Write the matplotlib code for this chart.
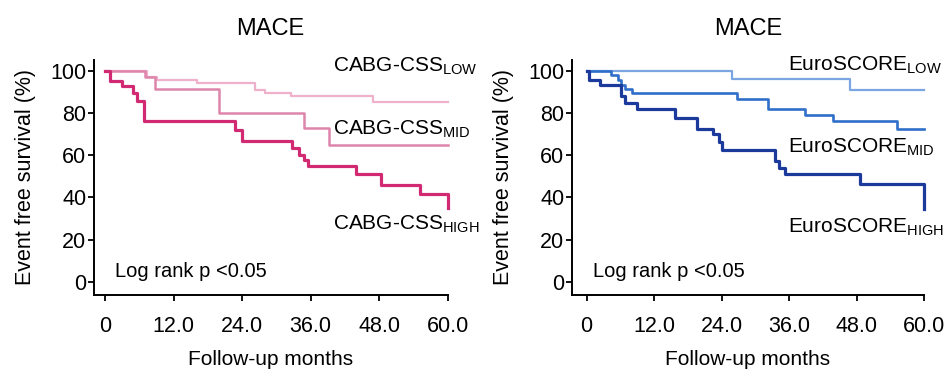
import matplotlib.pyplot as plt

plt.rcParams['font.family'] = ['Liberation Sans', 'DejaVu Sans']
plt.rcParams['mathtext.fontset'] = 'custom'
plt.rcParams['mathtext.rm'] = 'Liberation Sans'

# Courbes de survie (mois, % sans evenement)
months_ticks = [0, 12, 24, 36, 48, 60]
month_labels = ['0', '12.0', '24.0', '36.0', '48.0', '60.0']
surv_ticks = [0, 20, 40, 60, 80, 100]

# CABG-CSS
css_low_t = [0, 7.3, 9, 16, 26.3, 28, 32.5, 46.9, 60]
css_low_s = [100, 97, 95.5, 94, 91, 89.5, 88, 85, 85]
css_mid_t = [0, 7, 8.7, 19.9, 34.9, 39.3, 60]
css_mid_s = [100, 97, 91.5, 80, 73, 64.6, 64.6]
css_high_t = [0, 0.8, 2.9, 4.9, 5.5, 6.7, 22.8, 24, 32.8, 34, 34.8, 35.5, 44, 48.4, 55.1, 60]
css_high_s = [100, 95, 92.5, 89.5, 85.5, 76, 72, 66.5, 63.5, 60, 57.5, 55, 51, 46, 41.5, 35]

# EuroSCORE
euro_low_t = [0, 25.8, 46.8, 60]
euro_low_s = [100, 96, 91, 91]
euro_mid_t = [0, 4.4, 5.6, 6.2, 6.8, 8.0, 26.7, 32.3, 38.9, 43.9, 55.2, 60]
euro_mid_s = [100, 98, 95.5, 93, 91.4, 89.5, 86.5, 81.7, 79, 76, 72.2, 72.2]
euro_high_t = [0, 0.5, 2.4, 6.2, 6.8, 8.9, 15.7, 19.6, 22.5, 23.5, 24, 33.5, 34.3, 35.3, 48.6, 60]
euro_high_s = [100, 95.5, 93, 88, 84.8, 81.7, 77.7, 72.2, 69.8, 66, 62.5, 57, 54, 51, 46.2, 34.5]

fig = plt.figure(figsize=(9.45, 3.7), dpi=100)
ax1 = fig.add_axes([93.9 / 945, 1 - 294.5 / 370, (447.5 - 93.9) / 945, (294.5 - 60) / 370])
ax2 = fig.add_axes([572 / 945, 1 - 294.5 / 370, (924 - 572) / 945, (294.5 - 60) / 370])


def style_axes(ax, xmin, log_x):
    ax.set_xlim(xmin, 60)
    ax.set_ylim(-6, 105)
    ax.spines['top'].set_visible(False)
    ax.spines['right'].set_visible(False)
    ax.spines['left'].set_linewidth(1.4)
    ax.spines['bottom'].set_linewidth(1.4)
    ax.set_xticks(months_ticks)
    ax.set_xticklabels(month_labels)
    ax.set_yticks(surv_ticks)
    ax.tick_params(axis='both', length=4.5, width=1.3, labelsize=15.5, color='black')
    ax.tick_params(axis='x', pad=11)
    ax.tick_params(axis='y', pad=1)
    ax.set_title('MACE', fontsize=17, pad=18)
    ax.set_xlabel('Follow-up months', fontsize=15, labelpad=9)
    ax.set_ylabel('Event free survival (%)', fontsize=15.5, labelpad=10)
    ax.text(log_x, 2.5, 'Log rank p <0.05', fontsize=14.5, va='baseline')


# Panneau gauche : CABG-CSS
ax1.plot(css_low_t, css_low_s, drawstyle='steps-post', color='#efb0cb', linewidth=1.6, clip_on=False)
ax1.plot(css_mid_t, css_mid_s, drawstyle='steps-post', color='#de85ab', linewidth=1.8, clip_on=False)
ax1.plot(css_high_t, css_high_s, drawstyle='steps-post', color='#d12a72', linewidth=2.3, clip_on=False)
style_axes(ax1, -2, 1.7)
ax1.text(40, 99.4, r'CABG-CSS$_{\mathregular{LOW}}$', fontsize=15, va='baseline', clip_on=False)
ax1.text(40, 69.6, r'CABG-CSS$_{\mathregular{MID}}$', fontsize=15, va='baseline')
ax1.text(40, 24.6, r'CABG-CSS$_{\mathregular{HIGH}}$', fontsize=15, va='baseline')

# Panneau droit : EuroSCORE
ax2.plot(euro_low_t, euro_low_s, drawstyle='steps-post', color='#7ca6e2', linewidth=1.6, clip_on=False)
ax2.plot(euro_mid_t, euro_mid_s, drawstyle='steps-post', color='#2f6fca', linewidth=1.9, clip_on=False)
ax2.plot(euro_high_t, euro_high_s, drawstyle='steps-post', color='#1b3a9c', linewidth=2.3, clip_on=False)
style_axes(ax2, -2.6, 1.1)
ax2.text(35.8, 99.9, r'EuroSCORE$_{\mathregular{LOW}}$', fontsize=15, va='baseline', clip_on=False)
ax2.text(35.8, 61.4, r'EuroSCORE$_{\mathregular{MID}}$', fontsize=15, va='baseline')
ax2.text(35.8, 23.5, r'EuroSCORE$_{\mathregular{HIGH}}$', fontsize=15, va='baseline')

plt.savefig('out.png', dpi=100)
